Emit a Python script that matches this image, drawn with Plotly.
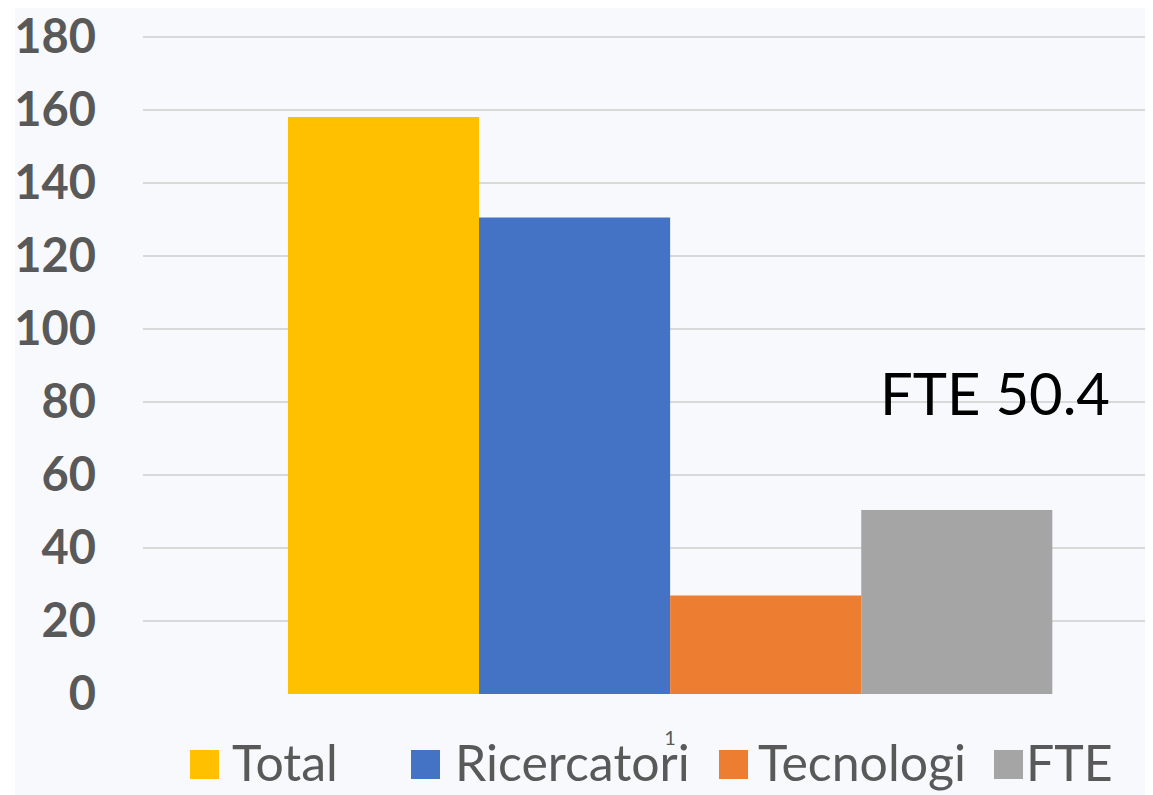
import plotly.graph_objects as go

# ---- data ----
categories = ["1"]
series_names = ["Total", "Ricercatori", "Tecnologi", "FTE"]
series_values = [158, 130.5, 27, 50.4]
series_colors = ["#FFC000", "#4472C4", "#ED7D31", "#A5A5A5"]
y_ticks = [0, 20, 40, 60, 80, 100, 120, 140, 160, 180]
fte_label = f"FTE {series_values[3]}"

OFF = 8  # page body margin
W, H = 1153 - OFF, 795 - OFF
ML, MT = 143 - OFF, 33 - OFF
MR = 0
MB = (795 - 694)  # bottom of plot at page pixel 694
PW, PH = W - ML - MR, H - MT - MB


def px(x):
    # page pixel -> paper coordinate
    return (x - OFF - ML) / PW


def py(y):
    return (H - MB - (y - OFF)) / PH


fig = go.Figure()
for name, val, col in zip(series_names, series_values, series_colors):
    fig.add_trace(go.Bar(x=categories, y=[val], name=name,
                         marker=dict(color=col, line=dict(width=0)),
                         showlegend=False, hoverinfo="y+name"))

shapes = [
    dict(type="rect", xref="paper", yref="paper", x0=px(15), x1=px(1170),
         y0=py(810), y1=py(7), fillcolor="#F8F9FC", line=dict(width=0), layer="below")
]
annotations = []

# legend (manual, to match large square swatches)
sq_x = [190, 411, 719, 994]
txt_x = [230, 453, 756, 1024]
for name, col, sx, tx in zip(series_names, series_colors, sq_x, txt_x):
    shapes.append(dict(type="rect", xref="paper", yref="paper",
                       x0=px(sx), x1=px(sx + 29), y0=py(779), y1=py(750),
                       fillcolor=col, line=dict(width=0)))
    annotations.append(dict(xref="paper", yref="paper", x=px(tx), y=py(762),
                            text=name, showarrow=False, xanchor="left", yanchor="middle",
                            font=dict(family="Lato", size=50, color="#595959")))

annotations.append(dict(xref="paper", yref="paper", x=px(995), y=py(392),
                        text=fte_label, showarrow=False, xanchor="center", yanchor="middle",
                        font=dict(family="Lato", size=58, color="#000000")))

fig.update_layout(
    width=W, height=H,
    margin=dict(l=ML, r=MR, t=MT, b=MB),
    paper_bgcolor="white",
    plot_bgcolor="rgba(0,0,0,0)",
    barmode="group",
    bargap=0.275,
    bargroupgap=0,
    shapes=shapes,
    annotations=annotations,
    xaxis=dict(range=[-0.5, 0.458], showgrid=False, zeroline=False, showline=False,
               ticks="", tickfont=dict(family="Lato", size=20, color="#595959"),
               ticklabelstandoff=30),
    yaxis=dict(range=[0, 181], tickvals=y_ticks, showgrid=True, gridcolor="#D9D9D9",
               gridwidth=1.5, zeroline=False, showline=False, ticks="",
               tickfont=dict(family="Lato", size=47, color="#595959", weight="bold"),
               ticklabelstandoff=46, ticklabeloverflow="allow"),
    font=dict(family="Lato"),
)

fig.write_html("out.html")
